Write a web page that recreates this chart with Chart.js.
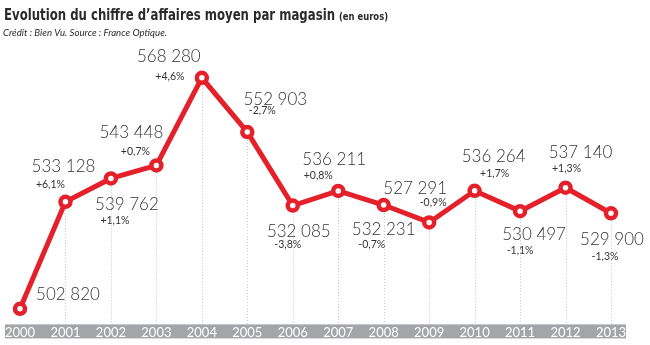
<!DOCTYPE html>
<html>
<head>
<meta charset="utf-8">
<script src="https://cdn.jsdelivr.net/npm/chart.js@4"></script>
<style>
  html, body { margin: 0; padding: 0; background: #fff; }
  #wrap { width: 650px; height: 345px; }
</style>
</head>
<body>
<div id="wrap"><canvas id="ca"></canvas></div>
<script>
const years = ['2000','2001','2002','2003','2004','2005','2006','2007','2008','2009','2010','2011','2012','2013'];
const ca = [502820, 533128, 539762, 543448, 568280, 552903, 532085, 536211, 532231, 527291, 536264, 530497, 537140, 529900];
const evolution = ['', '+6,1%', '+1,1%', '+0,7%', '+4,6%', '-2,7%', '-3,8%', '+0,8%', '-0,7%', '-0,9%', '+1,7%', '-1,1%', '+1,3%', '-1,3%'];

const titre = 'Evolution du chiffre d’affaires moyen par magasin';
const unite = '(en euros)';
const credit = 'Crédit : Bien Vu. Source : France Optique.';

// where each label sits, relative to its point (dx, dy)
const valuePos = [[48,-14],[-2,-35],[16,26],[-25,-33],[-33,-21],[28,-33],[6,26],[-4,-31],[0,24],[-14,-34],[19,-34],[14,23],[15,-35],[1,26]];
const pctPos = [[0,0],[-15,-17],[4,42],[-21,-14],[-32,-1],[15,-21],[-5,39],[-20,-15],[-12,40],[4,-20],[20,-17],[0,39],[1,-19],[-6,43]];

const red = '#e4202a';
const fmt = v => String(v).replace(/\B(?=(\d{3})+(?!\d))/g, ' ');

// condensed text: squeeze horizontally to the wanted width
function squeezed(ctx, text, x, y, width) {
  const w = ctx.measureText(text).width;
  ctx.save();
  ctx.translate(x, y);
  ctx.scale(width / w, 1);
  ctx.fillText(text, 0, 0);
  ctx.restore();
}

const decor = {
  id: 'decor',
  beforeDraw(chart) {
    const { ctx, chartArea } = chart;
    ctx.save();
    ctx.fillStyle = '#a3a5a8';
    ctx.fillRect(chartArea.left - 15, chartArea.bottom, chartArea.right - chartArea.left + 30, 14);
    ctx.restore();
  },
  beforeDatasetsDraw(chart) {
    const { ctx, chartArea } = chart;
    ctx.save();
    ctx.strokeStyle = '#c4c4c4';
    ctx.lineWidth = 1;
    ctx.setLineDash([1, 2]);
    chart.getDatasetMeta(0).data.forEach((p, i) => {
      if (i === 0) return;
      const x = Math.round(p.x) + 0.5;
      ctx.beginPath();
      ctx.moveTo(x, p.y + 8);
      ctx.lineTo(x, chartArea.bottom);
      ctx.stroke();
    });
    ctx.restore();
  },
  afterDatasetsDraw(chart) {
    const { ctx } = chart;
    ctx.save();
    ctx.textAlign = 'center';
    ctx.textBaseline = 'middle';
    chart.getDatasetMeta(0).data.forEach((p, i) => {
      ctx.fillStyle = '#333';
      ctx.font = '300 17px Lato';
      ctx.fillText(fmt(ca[i]), p.x + valuePos[i][0], p.y + valuePos[i][1]);
      if (evolution[i]) {
        ctx.font = '10.5px Lato';
        ctx.fillText(evolution[i], p.x + pctPos[i][0], p.y + pctPos[i][1]);
      }
    });
    ctx.restore();
  },
  afterDraw(chart) {
    const { ctx } = chart;
    ctx.save();
    ctx.fillStyle = '#2b2b2b';
    ctx.textBaseline = 'alphabetic';
    ctx.textAlign = 'left';
    ctx.font = 'bold 16.5px "DejaVu Sans"';
    squeezed(ctx, titre, 4, 20, 331);
    ctx.font = 'bold 10px "DejaVu Sans"';
    squeezed(ctx, unite, 339, 20, 49);
    ctx.font = 'italic 10px Lato';
    squeezed(ctx, credit, 3, 36, 164);
    ctx.restore();
  }
};

new Chart(document.getElementById('ca'), {
  type: 'line',
  data: {
    labels: years,
    datasets: [{
      data: ca,
      borderColor: red,
      borderWidth: 5,
      pointRadius: 5,
      pointBorderWidth: 4.5,
      pointBackgroundColor: '#fff',
      pointBorderColor: red,
      tension: 0,
      clip: false
    }]
  },
  options: {
    responsive: true,
    maintainAspectRatio: false,
    animation: false,
    events: [],
    layout: { padding: { left: 20, right: 39, bottom: 3, top: 46 } },
    plugins: {
      legend: { display: false },
      tooltip: { enabled: false },
      title: { display: false }
    },
    scales: {
      x: {
        offset: false,
        grid: { display: false, drawTicks: false },
        border: { display: false },
        ticks: { color: '#fff', padding: 1, font: { family: 'Lato', size: 13 }, maxRotation: 0, autoSkip: false }
      },
      y: {
        display: false,
        min: 498400,
        max: 577300
      }
    }
  },
  plugins: [decor]
});
</script>
</body>
</html>
